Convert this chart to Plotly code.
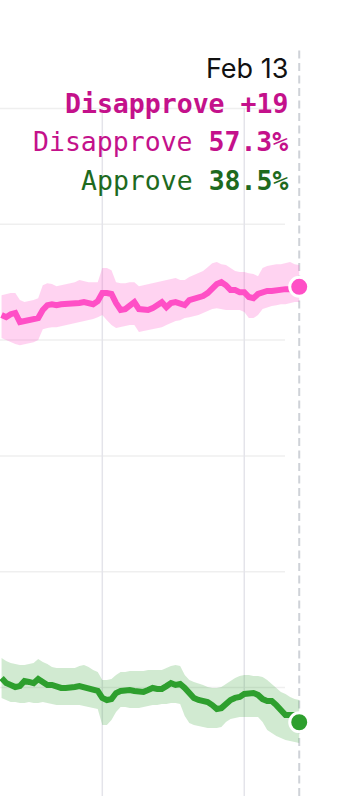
import pandas as pd
import plotly.graph_objects as go

# ---- data (percent), daily from Dec 10 2023 to Feb 13 2024 ----
dates = pd.date_range("2023-12-10", "2024-02-13", freq="D")

disapprove = [56.08, 55.99, 56.12, 56.17, 55.78, 55.82, 55.86, 55.91, 55.95, 56.30,
              56.51, 56.55, 56.51, 56.55, 56.55, 56.55, 56.60, 56.60, 56.64, 56.60,
              56.55, 56.68, 57.03, 57.03, 56.99, 56.60, 56.30, 56.34, 56.47, 56.64,
              56.34, 56.30, 56.30, 56.38, 56.51, 56.64, 56.42, 56.60, 56.64, 56.60,
              56.51, 56.73, 56.77, 56.86, 56.90, 57.03, 57.25, 57.42, 57.50, 57.37,
              57.16, 57.16, 57.07, 57.07, 56.86, 56.81, 56.99, 57.07, 57.12, 57.12,
              57.16, 57.16, 57.20, 57.20, 57.20, 57.30]
disapprove_hi = [56.94, 56.99, 57.03, 57.03, 56.73, 56.64, 56.68, 56.73, 56.81, 57.37,
                 57.46, 57.42, 57.33, 57.37, 57.42, 57.46, 57.50, 57.59, 57.55, 57.50,
                 57.50, 57.50, 58.11, 58.11, 58.02, 57.50, 57.46, 57.46, 57.50, 57.50,
                 57.33, 57.37, 57.42, 57.46, 57.50, 57.55, 57.59, 57.63, 57.68, 57.59,
                 57.59, 57.72, 57.81, 57.89, 57.98, 58.15, 58.32, 58.37, 58.28, 58.24,
                 58.11, 57.98, 57.94, 57.94, 57.89, 57.85, 57.76, 58.11, 58.20, 58.24,
                 58.28, 58.28, 58.32, 58.37, 58.28, 58.24]
disapprove_lo = [55.09, 55.00, 54.91, 54.83, 54.78, 54.83, 54.87, 54.91, 55.00, 55.47,
                 55.52, 55.56, 55.56, 55.60, 55.65, 55.69, 55.73, 55.78, 55.82, 55.86,
                 55.91, 55.99, 56.08, 55.86, 55.65, 55.52, 55.56, 55.60, 55.65, 55.65,
                 55.35, 55.39, 55.43, 55.47, 55.52, 55.56, 55.65, 55.73, 55.82, 55.86,
                 55.95, 55.99, 56.04, 56.08, 56.17, 56.25, 56.34, 56.38, 56.34, 56.30,
                 56.30, 56.30, 56.30, 56.21, 55.95, 55.95, 56.08, 56.34, 56.42, 56.47,
                 56.51, 56.55, 56.55, 56.60, 56.64, 56.64]

approve = [40.41, 40.19, 40.11, 40.02, 40.06, 40.28, 40.24, 40.19, 40.37, 40.24,
           40.11, 40.11, 40.02, 39.98, 39.98, 39.98, 40.02, 40.06, 40.02, 39.98,
           39.94, 39.85, 39.55, 39.46, 39.50, 39.76, 39.85, 39.89, 39.89, 39.85,
           39.81, 39.81, 39.89, 39.98, 39.94, 39.94, 40.06, 40.19, 40.11, 40.15,
           39.98, 39.72, 39.55, 39.46, 39.42, 39.37, 39.24, 39.07, 39.11, 39.33,
           39.46, 39.55, 39.59, 39.72, 39.76, 39.76, 39.68, 39.50, 39.42, 39.42,
           39.24, 38.99, 38.81, 38.81, 38.81, 38.50]
approve_hi = [41.27, 41.14, 41.06, 41.01, 40.97, 40.97, 41.01, 41.06, 41.23, 41.10,
              41.01, 40.89, 40.84, 40.84, 40.84, 40.84, 40.84, 40.93, 40.97, 40.89,
              40.76, 40.67, 40.32, 40.32, 40.37, 40.54, 40.67, 40.67, 40.71, 40.71,
              40.71, 40.71, 40.76, 40.76, 40.76, 40.76, 40.84, 40.93, 40.97, 40.93,
              40.54, 40.32, 40.24, 40.19, 40.11, 40.02, 39.98, 39.98, 40.02, 40.15,
              40.28, 40.41, 40.50, 40.54, 40.54, 40.50, 40.50, 40.45, 40.32, 40.15,
              39.94, 39.81, 39.72, 39.59, 39.50, 39.46]
approve_lo = [39.55, 39.46, 39.37, 39.37, 39.33, 39.33, 39.37, 39.33, 39.33, 39.37,
              39.33, 39.29, 39.24, 39.24, 39.24, 39.24, 39.24, 39.24, 39.20, 39.16,
              39.11, 39.07, 38.38, 38.38, 38.60, 38.94, 39.16, 39.16, 39.11, 39.11,
              39.11, 39.16, 39.20, 39.24, 39.24, 39.29, 39.29, 39.33, 39.33, 39.29,
              38.77, 38.47, 38.38, 38.34, 38.29, 38.25, 38.25, 38.25, 38.29, 38.51,
              38.64, 38.68, 38.73, 38.73, 38.73, 38.73, 38.73, 38.51, 38.16, 38.04,
              37.91, 37.82, 37.73, 37.69, 37.65, 37.60]

y_grid = [40, 45, 50, 55, 60, 65]
x_grid = ["2024-01-01", "2024-02-01"]
latest_label = "Feb 13"
net_label = "Disapprove +19"

PINK = "#ff4fc6"
PINK_BAND = "rgba(255,79,198,0.25)"
PINK_TEXT = "#c4118b"
GREEN = "#2e9f2e"
GREEN_BAND = "rgba(46,159,46,0.22)"
GREEN_TEXT = "#1e6a1e"

fig = go.Figure()

for lo, hi, band in [(disapprove_lo, disapprove_hi, PINK_BAND), (approve_lo, approve_hi, GREEN_BAND)]:
    fig.add_trace(go.Scatter(x=dates, y=lo, mode="lines", line=dict(width=0), hoverinfo="skip", showlegend=False))
    fig.add_trace(go.Scatter(x=dates, y=hi, mode="lines", line=dict(width=0), fill="tonexty",
                             fillcolor=band, hoverinfo="skip", showlegend=False))

for vals, col in [(disapprove, PINK), (approve, GREEN)]:
    fig.add_trace(go.Scatter(x=dates, y=vals, mode="lines", line=dict(color=col, width=6),
                             showlegend=False))
    fig.add_trace(go.Scatter(x=[dates[-1]], y=[vals[-1]], mode="markers",
                             marker=dict(color=col, size=19, line=dict(color="white", width=3)),
                             showlegend=False, cliponaxis=False))

shapes = []
for g in y_grid:
    shapes.append(dict(type="line", xref="paper", x0=0, x1=285 / 360, yref="y", y0=g, y1=g,
                       line=dict(color="#efefef", width=1.5), layer="below"))
for gx in x_grid:
    shapes.append(dict(type="line", xref="x", x0=gx, x1=gx, yref="y", y0=max(y_grid), y1=30,
                       line=dict(color="#e4e4ea", width=1.5), layer="below"))
shapes.append(dict(type="line", xref="x", x0=dates[-1], x1=dates[-1], yref="paper",
                   y0=0, y1=1 - 49 / 796, line=dict(color="#cfd2d8", width=2, dash="8px,4.5px"),
                   layer="below"))

mono = "DejaVu Sans Mono"
ax = 290 / 360
annotations = [
    dict(text=latest_label, x=ax, y=1 - 68 / 796, font=dict(family="Inter", size=27, color="#111111")),
    dict(text=f"<b>{net_label}</b>", x=ax, y=1 - 103 / 796,
         font=dict(family=mono, size=26.5, color=PINK_TEXT)),
    dict(text=f"Disapprove <b>{disapprove[-1]:.1f}%</b>", x=ax, y=1 - 142 / 796,
         font=dict(family=mono, size=26.5, color=PINK_TEXT)),
    dict(text=f"Approve <b>{approve[-1]:.1f}%</b>", x=ax, y=1 - 181 / 796,
         font=dict(family=mono, size=26.5, color=GREEN_TEXT)),
]
for a in annotations:
    a.update(xref="paper", yref="paper", xanchor="right", yanchor="middle", showarrow=False)

fig.update_layout(
    width=360, height=796, margin=dict(l=0, r=0, t=0, b=0),
    paper_bgcolor="white", plot_bgcolor="white",
    xaxis=dict(range=["2023-12-09 15:50", "2024-02-26 06:30"], visible=False, showgrid=False),
    yaxis=dict(range=[35.315, 69.685], visible=False, showgrid=False),
    shapes=shapes, annotations=annotations, showlegend=False,
)

fig.write_html("out.html")
